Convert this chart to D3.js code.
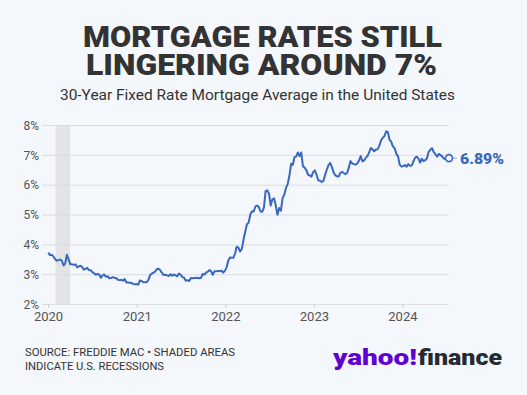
<!DOCTYPE html>
<html lang="en">
<head>
<meta charset="UTF-8">
<title>Mortgage Rates</title>
<script src="https://cdn.jsdelivr.net/npm/d3@7/dist/d3.min.js"></script>
<style>
    html, body { margin: 0; padding: 0; background: #f4f7fb; }
    svg { display: block; font-family: Roboto, "Liberation Sans", sans-serif; }
</style>
</head>
<body>
<div id="chart"></div>
<script>
// weekly Freddie Mac 30-year fixed averages
const dates2020 = ["2020-01-02","2020-01-09","2020-01-16","2020-01-23","2020-01-30","2020-02-06","2020-02-13","2020-02-20","2020-02-27","2020-03-05","2020-03-12","2020-03-19","2020-03-26","2020-04-02","2020-04-09","2020-04-16","2020-04-23","2020-04-30","2020-05-07","2020-05-14","2020-05-21","2020-05-28","2020-06-04","2020-06-11","2020-06-18","2020-06-25","2020-07-02","2020-07-09","2020-07-16","2020-07-23","2020-07-30","2020-08-06","2020-08-13","2020-08-20","2020-08-27","2020-09-03","2020-09-10","2020-09-17","2020-09-24","2020-10-01","2020-10-08","2020-10-15","2020-10-22","2020-10-29","2020-11-05","2020-11-12","2020-11-19","2020-11-25","2020-12-03","2020-12-10","2020-12-17","2020-12-24","2020-12-31"];
const rates2020 = [3.72,3.64,3.65,3.60,3.51,3.45,3.47,3.49,3.45,3.29,3.36,3.65,3.50,3.33,3.33,3.31,3.33,3.23,3.26,3.28,3.24,3.15,3.18,3.21,3.13,3.13,3.07,3.03,2.98,3.01,2.99,2.88,2.96,2.99,2.91,2.93,2.86,2.87,2.90,2.88,2.87,2.81,2.80,2.81,2.78,2.84,2.72,2.72,2.71,2.71,2.67,2.66,2.67];

const dates2021 = ["2021-01-07","2021-01-14","2021-01-21","2021-01-28","2021-02-04","2021-02-11","2021-02-18","2021-02-25","2021-03-04","2021-03-11","2021-03-18","2021-03-25","2021-04-01","2021-04-08","2021-04-15","2021-04-22","2021-04-29","2021-05-06","2021-05-13","2021-05-20","2021-05-27","2021-06-03","2021-06-10","2021-06-17","2021-06-24","2021-07-01","2021-07-08","2021-07-15","2021-07-22","2021-07-29","2021-08-05","2021-08-12","2021-08-19","2021-08-26","2021-09-02","2021-09-09","2021-09-16","2021-09-23","2021-09-30","2021-10-07","2021-10-14","2021-10-21","2021-10-28","2021-11-04","2021-11-10","2021-11-18","2021-11-24","2021-12-02","2021-12-09","2021-12-16","2021-12-23","2021-12-30"];
const rates2021 = [2.65,2.79,2.77,2.73,2.73,2.73,2.81,2.97,3.02,3.05,3.09,3.17,3.18,3.13,3.04,2.97,2.98,2.96,2.94,3.00,2.95,2.99,2.96,2.93,3.02,2.98,2.90,2.88,2.78,2.80,2.77,2.87,2.86,2.87,2.87,2.88,2.86,2.88,3.01,2.99,3.05,3.09,3.14,3.09,2.98,3.10,3.10,3.11,3.10,3.12,3.05,3.11];

const dates2022 = ["2022-01-06","2022-01-13","2022-01-20","2022-01-27","2022-02-03","2022-02-10","2022-02-17","2022-02-24","2022-03-03","2022-03-10","2022-03-17","2022-03-24","2022-03-31","2022-04-07","2022-04-14","2022-04-21","2022-04-28","2022-05-05","2022-05-12","2022-05-19","2022-05-26","2022-06-02","2022-06-09","2022-06-16","2022-06-23","2022-06-30","2022-07-07","2022-07-14","2022-07-21","2022-07-28","2022-08-04","2022-08-11","2022-08-18","2022-08-25","2022-09-01","2022-09-08","2022-09-15","2022-09-22","2022-09-29","2022-10-06","2022-10-13","2022-10-20","2022-10-27","2022-11-03","2022-11-10","2022-11-17","2022-11-23","2022-12-01","2022-12-08","2022-12-15","2022-12-22","2022-12-29"];
const rates2022 = [3.22,3.45,3.56,3.55,3.55,3.69,3.92,3.89,3.76,3.85,4.16,4.42,4.67,4.72,5.00,5.11,5.10,5.27,5.30,5.25,5.10,5.09,5.23,5.78,5.81,5.70,5.30,5.51,5.54,5.30,4.99,5.22,5.13,5.55,5.66,5.89,6.02,6.29,6.70,6.66,6.92,6.94,7.08,6.95,7.08,6.61,6.58,6.49,6.33,6.31,6.27,6.42];

const dates2023 = ["2023-01-05","2023-01-12","2023-01-19","2023-01-26","2023-02-02","2023-02-09","2023-02-16","2023-02-23","2023-03-02","2023-03-09","2023-03-16","2023-03-23","2023-03-30","2023-04-06","2023-04-13","2023-04-20","2023-04-27","2023-05-04","2023-05-11","2023-05-18","2023-05-25","2023-06-01","2023-06-08","2023-06-15","2023-06-22","2023-06-29","2023-07-06","2023-07-13","2023-07-20","2023-07-27","2023-08-03","2023-08-10","2023-08-17","2023-08-24","2023-08-31","2023-09-07","2023-09-14","2023-09-21","2023-09-28","2023-10-05","2023-10-12","2023-10-19","2023-10-26","2023-11-02","2023-11-09","2023-11-16","2023-11-22","2023-11-30","2023-12-07","2023-12-14","2023-12-21","2023-12-28"];
const rates2023 = [6.48,6.33,6.15,6.13,6.09,6.12,6.32,6.50,6.65,6.73,6.60,6.42,6.32,6.28,6.27,6.39,6.43,6.39,6.35,6.39,6.57,6.79,6.71,6.69,6.67,6.71,6.81,6.96,6.78,6.81,6.90,6.96,7.09,7.23,7.18,7.12,7.18,7.19,7.31,7.49,7.57,7.63,7.79,7.76,7.50,7.44,7.29,7.22,7.03,6.95,6.67,6.61];

const dates2024 = ["2024-01-04","2024-01-11","2024-01-18","2024-01-25","2024-02-01","2024-02-08","2024-02-15","2024-02-22","2024-02-29","2024-03-07","2024-03-14","2024-03-21","2024-03-28","2024-04-04","2024-04-11","2024-04-18","2024-04-25","2024-05-02","2024-05-09","2024-05-16","2024-05-23","2024-05-30","2024-06-06","2024-06-13","2024-06-20","2024-06-27","2024-07-03","2024-07-11"];
const rates2024 = [6.62,6.66,6.60,6.69,6.63,6.64,6.77,6.90,6.94,6.88,6.74,6.87,6.79,6.82,6.88,7.10,7.17,7.22,7.09,7.02,6.94,7.03,6.99,6.95,6.87,6.86,6.95,6.89];

const recessions = [["2020-02-01", "2020-04-01"]];
const yTicks = [2, 3, 4, 5, 6, 7, 8];
const xTicks = ["2020-01-01", "2021-01-01", "2022-01-01", "2023-01-01", "2024-01-01"];
const titleLines = ["MORTGAGE RATES STILL", "LINGERING AROUND 7%"];

const parse = d3.timeParse("%Y-%m-%d");
const dates = [].concat(dates2020, dates2021, dates2022, dates2023, dates2024);
const rates = [].concat(rates2020, rates2021, rates2022, rates2023, rates2024);
const data = dates.map((d, i) => ({ date: parse(d), rate: rates[i] }));
const last = data[data.length - 1];

const W = 527, H = 395;
const blue = "#3a68be";

const svg = d3.select("#chart").append("svg")
    .attr("width", W).attr("height", H);

svg.append("rect").attr("width", W).attr("height", H).attr("fill", "#f4f7fb");

// title, two lines in one text element
const title = svg.append("text")
    .attr("font-weight", 900)
    .attr("fill", "#333")
    .attr("font-size", 29)
    .attr("text-anchor", "middle");
title.append("tspan").attr("x", 262.5).attr("y", 46.5)
    .attr("textLength", 359).attr("lengthAdjust", "spacingAndGlyphs")
    .text(titleLines[0]);
title.append("tspan").attr("x", 261.5).attr("y", 75)
    .attr("textLength", 351).attr("lengthAdjust", "spacingAndGlyphs")
    .text(titleLines[1]);

svg.append("text")
    .attr("x", 257.5).attr("y", 100)
    .attr("text-anchor", "middle")
    .attr("font-size", 15)
    .attr("fill", "#333")
    .attr("textLength", 395).attr("lengthAdjust", "spacingAndGlyphs")
    .text("30-Year Fixed Rate Mortgage Average in the United States");

// scales
const x = d3.scaleTime()
    .domain([parse("2020-01-01"), last.date])
    .range([48, 449]);
const y = d3.scaleLinear()
    .domain([2, 8])
    .range([304, 125]);

// recession shading
svg.selectAll(".recession")
    .data(recessions)
    .join("rect")
    .attr("class", "recession")
    .attr("x", d => x(parse(d[0])))
    .attr("width", d => x(parse(d[1])) - x(parse(d[0])))
    .attr("y", y(8))
    .attr("height", y(2) - y(8))
    .attr("fill", "#e4e4e6");

// y grid + labels
const yAxis = svg.append("g")
    .attr("transform", "translate(42,0)")
    .call(d3.axisRight(y).tickValues(yTicks).tickSize(407).tickFormat(d => d + "%"));
yAxis.select(".domain").remove();
yAxis.selectAll(".tick line").attr("stroke", "#dcdde0");
yAxis.selectAll(".tick text")
    .attr("x", -3).attr("dy", "0.35em")
    .attr("text-anchor", "end")
    .attr("font-size", 12)
    .attr("font-family", "Roboto, sans-serif")
    .attr("fill", "#555");

// x axis
const xAxis = svg.append("g")
    .attr("transform", `translate(0,${y(2)})`)
    .call(d3.axisBottom(x).tickValues(xTicks.map(parse)).tickSize(4).tickPadding(4).tickFormat(d3.timeFormat("%Y")));
xAxis.select(".domain").remove();
xAxis.selectAll(".tick line").attr("stroke", "#cfd0d3");
xAxis.selectAll(".tick text")
    .attr("font-size", 13)
    .attr("font-family", "Roboto, sans-serif")
    .attr("fill", "#555");

// line
svg.append("path")
    .datum(data)
    .attr("fill", "none")
    .attr("stroke", blue)
    .attr("stroke-width", 2)
    .attr("stroke-linejoin", "round")
    .attr("d", d3.line().x(d => x(d.date)).y(d => y(d.rate)));

// end marker + label
const ex = x(last.date), ey = y(last.rate);
svg.append("line")
    .attr("x1", ex + 4).attr("x2", ex + 8)
    .attr("y1", ey).attr("y2", ey)
    .attr("stroke", "#9aa8c4").attr("stroke-width", 1);
svg.append("circle")
    .attr("cx", ex).attr("cy", ey).attr("r", 3.5)
    .attr("fill", "#f4f7fb").attr("stroke", blue).attr("stroke-width", 1.6);
svg.append("text")
    .attr("x", ex + 11).attr("y", ey + 5.5)
    .attr("font-size", 15).attr("font-weight", 900)
    .attr("fill", blue)
    .attr("textLength", 44).attr("lengthAdjust", "spacingAndGlyphs")
    .text(last.rate.toFixed(2) + "%");

// source note
const note = svg.append("g").attr("font-size", 11).attr("fill", "#333");
note.append("text").attr("x", 25).attr("y", 356)
    .attr("textLength", 210).attr("lengthAdjust", "spacingAndGlyphs")
    .text("SOURCE: FREDDIE MAC • SHADED AREAS");
note.append("text").attr("x", 25).attr("y", 369.5)
    .attr("textLength", 139).attr("lengthAdjust", "spacingAndGlyphs")
    .text("INDICATE U.S. RECESSIONS");

// logo
const logo = svg.append("g").attr("font-size", 22).attr("font-weight", 900);
logo.append("text").attr("x", 333).attr("y", 365)
    .attr("fill", "#6001d2")
    .attr("textLength", 84).attr("lengthAdjust", "spacingAndGlyphs")
    .text("yahoo!");
logo.append("text").attr("x", 418).attr("y", 365)
    .attr("fill", "#232a31")
    .attr("textLength", 84).attr("lengthAdjust", "spacingAndGlyphs")
    .text("finance");
</script>
</body>
</html>
